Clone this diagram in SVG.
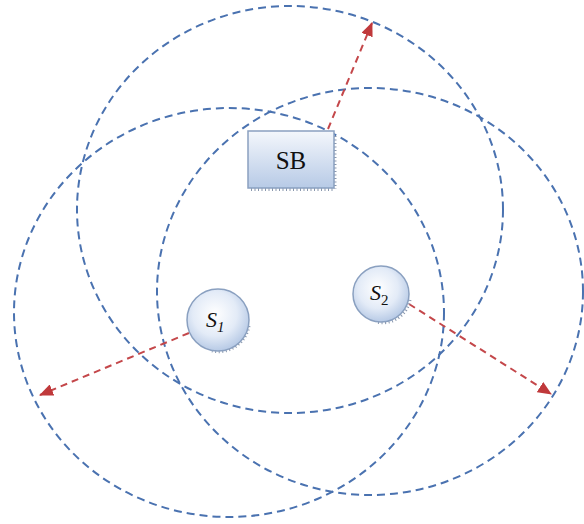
<svg xmlns="http://www.w3.org/2000/svg" width="584" height="524" viewBox="0 0 584 524">
<defs>
<linearGradient id="boxGrad" x1="0" y1="0" x2="0" y2="1">
<stop offset="0" stop-color="#f4f7fc"/>
<stop offset="1" stop-color="#b7cae6"/>
</linearGradient>
<radialGradient id="nodeGrad" cx="0.45" cy="0.4" r="0.65">
<stop offset="0" stop-color="#ffffff"/>
<stop offset="0.55" stop-color="#e3ebf7"/>
<stop offset="1" stop-color="#aec3e2"/>
</radialGradient>
<marker id="redArrow" viewBox="0 0 14 12" refX="13" refY="6" markerWidth="14" markerHeight="12" markerUnits="userSpaceOnUse" orient="auto">
<path d="M0,0 L14,6 L0,12 Z" fill="#c0393b"/>
</marker>
</defs>
<style>
.range{fill:none;stroke:#4a72b0;stroke-width:2;stroke-dasharray:8 5}
.link{fill:none;stroke:#c4474a;stroke-width:2;stroke-dasharray:7 5}
.hatch{fill:none;stroke:#8a98ae;stroke-width:3;stroke-dasharray:1 2.5}
.nodeShape{stroke:#8aa0c0;stroke-width:1.5}
.lbl{fill:#111}
</style>
<rect width="584" height="524" fill="#ffffff"/>
<g id="ranges">
<ellipse class="range" cx="290" cy="209.5" rx="213" ry="203.5"/>
<ellipse class="range" cx="229" cy="312.5" rx="215" ry="204.5"/>
<ellipse class="range" cx="370" cy="291.5" rx="213" ry="203.5"/>
</g>
<g id="connectors">
<line class="link" x1="328" y1="129" x2="372" y2="23" marker-end="url(#redArrow)"/>
<line class="link" x1="189" y1="333" x2="40" y2="395" marker-end="url(#redArrow)"/>
<line class="link" x1="409" y1="304" x2="551" y2="394" marker-end="url(#redArrow)"/>
</g>
<g id="SB">
<line class="hatch" x1="251" y1="189.5" x2="333" y2="189.5"/>
<line class="hatch" x1="335" y1="136" x2="335" y2="189"/>
<rect class="nodeShape" x="248" y="131" width="86" height="57" fill="url(#boxGrad)"/>
<text class="lbl" x="291" y="169" font-family="'Liberation Serif', 'Times New Roman', serif" font-size="25" text-anchor="middle">SB</text>
</g>
<g id="S1">
<path class="hatch" d="M249,326 A31,31 0 0 1 212,351"/>
<circle class="nodeShape" cx="218" cy="320" r="31" fill="url(#nodeGrad)"/>
<text class="lbl" x="206" y="327" font-family="'Liberation Serif', 'Times New Roman', serif" font-size="22" font-style="italic">S<tspan font-size="15" dy="5">1</tspan></text>
</g>
<g id="S2">
<path class="hatch" d="M410,300 A28,28 0 0 1 376,322"/>
<circle class="nodeShape" cx="381" cy="294" r="28" fill="url(#nodeGrad)"/>
<text class="lbl" x="370" y="300" font-family="'Liberation Serif', 'Times New Roman', serif" font-size="22"><tspan font-style="italic">S</tspan><tspan font-size="15" dy="5">2</tspan></text>
</g>
</svg>
